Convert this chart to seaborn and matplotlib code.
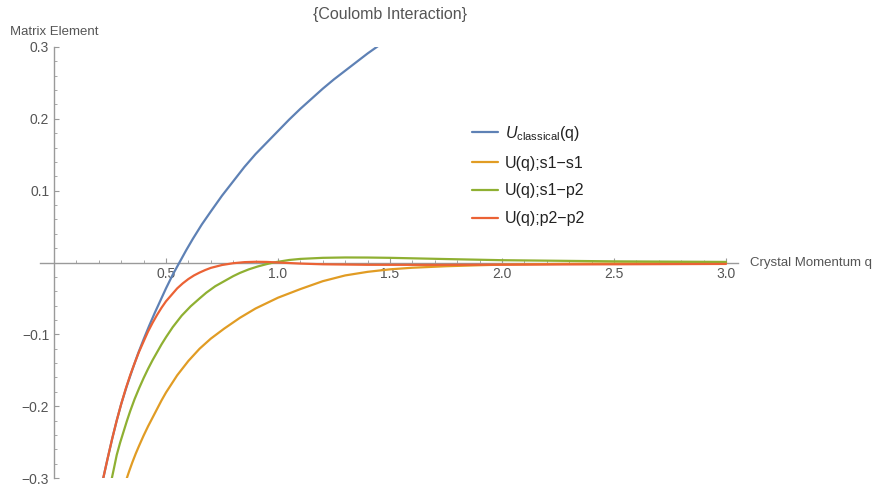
import numpy as np
import pandas as pd
import matplotlib
matplotlib.use('Agg')
import matplotlib.pyplot as plt
import seaborn as sns
from matplotlib.ticker import FixedLocator, FixedFormatter

# ---------------- data ----------------
q_classical = [0.22, 0.24, 0.26, 0.28, 0.30, 0.325, 0.35, 0.375, 0.40, 0.425,
               0.45, 0.475, 0.50, 0.53, 0.56, 0.59, 0.62, 0.66, 0.70, 0.75,
               0.80, 0.85, 0.90, 0.95, 1.00, 1.05, 1.10, 1.15, 1.20, 1.25,
               1.30, 1.35, 1.40, 1.45]
u_classical = [-0.300, -0.272, -0.245, -0.220, -0.197, -0.172, -0.149, -0.127,
               -0.107, -0.088, -0.070, -0.053, -0.036, -0.017, 0.000, 0.017,
               0.033, 0.053, 0.071, 0.093, 0.113, 0.133, 0.151, 0.167, 0.183,
               0.199, 0.214, 0.228, 0.242, 0.255, 0.267, 0.279, 0.291, 0.302]

q_s1s1 = [0.32, 0.335, 0.35, 0.365, 0.38, 0.40, 0.42, 0.44, 0.46, 0.48, 0.50,
          0.525, 0.55, 0.575, 0.60, 0.65, 0.70, 0.76, 0.83, 0.90, 1.00, 1.10,
          1.20, 1.30, 1.40, 1.50, 1.60, 1.75, 1.90, 2.00, 2.25, 2.50, 3.00]
u_s1s1 = [-0.305, -0.291, -0.278, -0.266, -0.255, -0.241, -0.228, -0.216,
          -0.204, -0.192, -0.181, -0.169, -0.157, -0.147, -0.137, -0.120,
          -0.106, -0.092, -0.077, -0.064, -0.049, -0.037, -0.026, -0.018,
          -0.013, -0.0095, -0.0073, -0.0052, -0.0038, -0.0030, -0.0020,
          -0.0013, -0.0006]

q_s1p2 = [0.255, 0.268, 0.28, 0.295, 0.31, 0.325, 0.34, 0.36, 0.38, 0.40,
          0.42, 0.44, 0.46, 0.48, 0.50, 0.53, 0.57, 0.61, 0.65, 0.68, 0.72,
          0.76, 0.80, 0.83, 0.87, 0.91, 0.95, 0.98, 1.05, 1.10, 1.20, 1.30,
          1.40, 1.50, 1.75, 2.00, 2.50, 3.00]
u_s1p2 = [-0.305, -0.286, -0.268, -0.251, -0.236, -0.221, -0.207, -0.190,
          -0.175, -0.161, -0.148, -0.136, -0.125, -0.114, -0.104, -0.090,
          -0.074, -0.061, -0.050, -0.042, -0.033, -0.026, -0.019, -0.0145,
          -0.0095, -0.0055, -0.0022, 0.000, 0.0035, 0.0050, 0.0065, 0.0070,
          0.0069, 0.0065, 0.0048, 0.0032, 0.0016, 0.0008]

q_p2p2 = [0.22, 0.24, 0.26, 0.28, 0.30, 0.32, 0.34, 0.36, 0.38, 0.40, 0.42,
          0.44, 0.46, 0.48, 0.50, 0.525, 0.55, 0.575, 0.60, 0.625, 0.65,
          0.675, 0.70, 0.75, 0.80, 0.85, 0.90, 0.95, 1.00, 1.10, 1.20, 1.40,
          1.70, 2.00, 2.50, 3.00]
u_p2p2 = [-0.300, -0.272, -0.245, -0.220, -0.197, -0.176, -0.157, -0.140,
          -0.124, -0.110, -0.096, -0.084, -0.073, -0.063, -0.054, -0.045,
          -0.036, -0.029, -0.023, -0.018, -0.014, -0.0105, -0.0075, -0.0035,
          -0.0010, 0.0005, 0.0010, 0.0008, 0.0000, -0.0015, -0.0025, -0.0032,
          -0.0033, -0.0030, -0.0025, -0.0020]

series_labels = [r'$U_{\mathrm{classical}}$(q)', 'U(q);s1\u2212s1',
                 'U(q);s1\u2212p2', 'U(q);p2\u2212p2']
series_colors = ['#5E81B5', '#E19C24', '#8FB032', '#EB6235']

x_major = [0.5, 1.0, 1.5, 2.0, 2.5, 3.0]
x_major_labels = ['0.5', '1.0', '1.5', '2.0', '2.5', '3.0']
y_major = [-0.3, -0.2, -0.1, 0.1, 0.2, 0.3]
y_major_labels = ['\u22120.3', '\u22120.2', '\u22120.1', '0.1', '0.2', '0.3']

title_text = '{Coulomb Interaction}'
y_label = 'Matrix Element'
x_label = 'Crystal Momentum q'

# ---------------- table ----------------
frames = []
for qs, us, lab in zip([q_classical, q_s1s1, q_s1p2, q_p2p2],
                       [u_classical, u_s1s1, u_s1p2, u_p2p2], series_labels):
    frames.append(pd.DataFrame({'q': qs, 'u': us, 'series': lab}))
df = pd.concat(frames, ignore_index=True)

# ---------------- style ----------------
sns.set_theme(style='white')
plt.rcParams['font.family'] = ['Liberation Sans', 'DejaVu Sans']
plt.rcParams['mathtext.fontset'] = 'custom'
plt.rcParams['mathtext.rm'] = 'Liberation Sans'
plt.rcParams['mathtext.it'] = 'Liberation Sans:italic'

W, H = 878, 487
fig = plt.figure(figsize=(W / 100, H / 100), dpi=100)
ax = fig.add_axes([40 / W, 1 - 478 / H, (738 - 40) / W, (478 - 47) / H])

sns.lineplot(data=df, x='q', y='u', hue='series', hue_order=series_labels,
             palette=series_colors, estimator=None, sort=False, ax=ax,
             linewidth=1.6, zorder=3)

ax.set_xlim(-0.0625, 3.0536)
ax.set_ylim(-0.3, 0.3)

axis_color = '#9a9a9a'
for s in ['top', 'right']:
    ax.spines[s].set_visible(False)
for s in ['left', 'bottom']:
    ax.spines[s].set_position(('data', 0))
    ax.spines[s].set_color(axis_color)
    ax.spines[s].set_linewidth(1.0)
    ax.spines[s].set_zorder(1)

ax.xaxis.set_major_locator(FixedLocator(x_major))
ax.xaxis.set_major_formatter(FixedFormatter(x_major_labels))
ax.yaxis.set_major_locator(FixedLocator(y_major))
ax.yaxis.set_major_formatter(FixedFormatter(y_major_labels))
x_minor = [round(0.1 * i, 2) for i in range(1, 31) if i % 5 != 0]
y_minor = [round(0.02 * i, 3) for i in range(-15, 16) if i % 5 != 0]
ax.xaxis.set_minor_locator(FixedLocator(x_minor))
ax.yaxis.set_minor_locator(FixedLocator(y_minor))

ax.tick_params(axis='both', which='major', direction='in', length=3.5,
               width=0.8, color=axis_color, labelcolor='#555555',
               labelsize=10)
ax.tick_params(axis='both', which='minor', direction='in', length=2,
               width=0.6, color=axis_color)
ax.tick_params(axis='x', which='both', bottom=True, pad=3.5)
ax.tick_params(axis='y', which='both', left=True, pad=3.5)
ax.set_xlabel('')
ax.set_ylabel('')
ax.grid(False)

handles, labels = ax.get_legend_handles_labels()
ax.legend(handles, labels, loc='center left',
          bbox_to_anchor=(472 / W, 1 - 175 / H), bbox_transform=fig.transFigure,
          frameon=False, handlelength=1.63, handletextpad=0.45,
          labelspacing=0.8, borderpad=0, borderaxespad=0, fontsize=11.5,
          labelcolor='#222222')

fig.text(390 / W, 1 - 15 / H, title_text, ha='center', va='center',
         fontsize=11.5, color='#555555')
fig.text(10 / W, 1 - 32 / H, y_label, ha='left', va='center',
         fontsize=9.5, color='#555555')
fig.text(750 / W, 1 - 263 / H, x_label, ha='left', va='center',
         fontsize=9.5, color='#555555')

fig.savefig('out.png', dpi=100)
